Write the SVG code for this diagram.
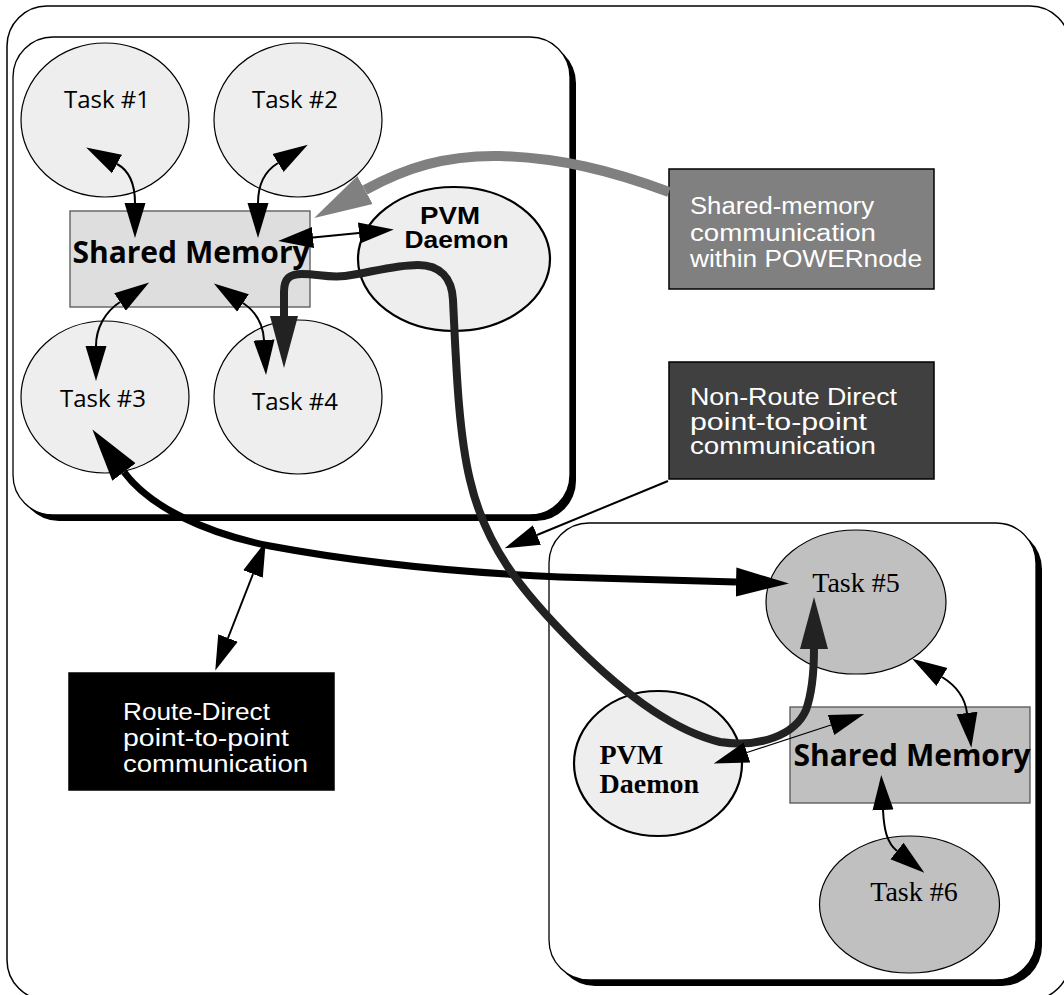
<svg xmlns="http://www.w3.org/2000/svg" width="1064" height="995" viewBox="0 0 1064 995">
  <style>
    .frame{fill:#fff;stroke:#000;stroke-width:1.5}
    .pnode{fill:#fff;stroke:#000;stroke-width:1.3}
    .shadow{fill:#000}
    .task-a{fill:#eeeeee;stroke:#000;stroke-width:1.2}
    .task-b{fill:#c0c0c0;stroke:#000;stroke-width:1.2}
    .daemon{fill:#eeeeee;stroke:#000;stroke-width:2.2}
    .shm-a{fill:#dedede;stroke:#555;stroke-width:1.3}
    .shm-b{fill:#c0c0c0;stroke:#555;stroke-width:1.3}
    .note{stroke:#000;stroke-width:1.5}
    .sans{font-family:"Open Sans","Liberation Sans",sans-serif}
    .tight{font-family:"Liberation Sans","Open Sans",sans-serif}
    .serif{font-family:"Liberation Serif","DejaVu Serif",serif}
    .task{font-size:24px;fill:#000;text-anchor:middle}
    .task-serif{font-size:28px;fill:#000;text-anchor:middle}
    .shm-txt{font-size:30px;font-weight:700;fill:#000;text-anchor:middle}
    .pvm-txt{font-size:23px;font-weight:700;fill:#000;text-anchor:middle}
    .pvm-serif{font-size:28px;font-weight:700;fill:#000}
    .note-txt{font-size:23px;fill:#fff}
    .thin{fill:none;stroke:#000;stroke-width:2;marker-start:url(#ah);marker-end:url(#ah)}
    .hair{fill:none;stroke:#000;stroke-width:1.3;marker-start:url(#ah);marker-end:url(#ah)}
    .route{fill:none;stroke:#000;stroke-width:7;marker-start:url(#ahBlack);marker-end:url(#ahBlack)}
    .daemon-path{fill:none;stroke:#222;stroke-width:8;stroke-linejoin:round;marker-start:url(#ahDark);marker-end:url(#ahDark)}
    .shm-path{fill:none;stroke:#808080;stroke-width:10;marker-end:url(#ahGray)}
  </style>
  <defs>
    <marker id="ah" markerUnits="userSpaceOnUse" viewBox="0 -12 36 24" refX="0" refY="0" markerWidth="36" markerHeight="24" orient="auto-start-reverse">
      <path d="M0,-10.5 L35,0 L0,10.5 z" fill="#000"/>
    </marker>
    <marker id="ahBlack" markerUnits="userSpaceOnUse" viewBox="0 -16 54 32" refX="0" refY="0" markerWidth="54" markerHeight="32" orient="auto-start-reverse">
      <path d="M0,-14.5 L53,0 L0,14.5 z" fill="#000"/>
    </marker>
    <marker id="ahDark" markerUnits="userSpaceOnUse" viewBox="0 -16 54 32" refX="0" refY="0" markerWidth="54" markerHeight="32" orient="auto-start-reverse">
      <path d="M0,-14 L52,0 L0,14 z" fill="#222"/>
    </marker>
    <marker id="ahGray" markerUnits="userSpaceOnUse" viewBox="0 -17 60 34" refX="0" refY="0" markerWidth="60" markerHeight="34" orient="auto">
      <path d="M0,-16 L58,0 L0,16 z" fill="#808080"/>
    </marker>
  </defs>

  <!-- outer frame -->
  <rect class="frame" x="7" y="6" width="1063" height="994" rx="40"/>

  <!-- POWERnode 1 -->
  <g id="powernode-1">
    <rect class="shadow" x="19" y="43" width="557" height="478" rx="40"/>
    <rect class="pnode" x="13" y="37" width="557" height="478" rx="40"/>
  </g>

  <!-- POWERnode 2 -->
  <g id="powernode-2">
    <rect class="shadow" x="555" y="529" width="487" height="457" rx="40"/>
    <rect class="pnode" x="549" y="523" width="487" height="457" rx="40"/>
  </g>

  <g id="task1">
    <ellipse class="task-a" cx="105" cy="120" rx="84" ry="77"/>
    <text class="sans task" x="107" y="107.5">Task #1</text>
  </g>
  <g id="task2">
    <ellipse class="task-a" cx="298" cy="120" rx="84" ry="77"/>
    <text class="sans task" x="295" y="107.5">Task #2</text>
  </g>
  <g id="task3">
    <ellipse class="task-a" cx="105" cy="397" rx="84" ry="76"/>
    <text class="sans task" x="103" y="407">Task #3</text>
  </g>
  <g id="task4">
    <ellipse class="task-a" cx="298" cy="397" rx="84" ry="77"/>
    <text class="sans task" x="295" y="410">Task #4</text>
  </g>
  <g id="shm1">
    <rect class="shm-a" x="70" y="211" width="240" height="96"/>
    <text class="sans shm-txt" x="191" y="263">Shared Memory</text>
  </g>
  <g id="pvm1">
    <ellipse class="daemon" cx="454" cy="259" rx="96" ry="72"/>
    <text class="tight pvm-txt" x="450" y="223.5" textLength="60" lengthAdjust="spacingAndGlyphs">PVM</text>
    <text class="tight pvm-txt" x="456.5" y="247.5" textLength="104" lengthAdjust="spacingAndGlyphs">Daemon</text>
  </g>

  <g id="task5">
    <ellipse class="task-b" cx="856" cy="602" rx="90" ry="72"/>
    <text class="serif task-serif" x="856" y="592">Task #5</text>
  </g>
  <g id="shm2">
    <rect class="shm-b" x="790" y="707" width="240" height="96"/>
    <text class="sans shm-txt" x="912" y="766">Shared Memory</text>
  </g>
  <g id="pvm2">
    <ellipse class="daemon" cx="658" cy="763.5" rx="84" ry="72.5"/>
    <text class="serif pvm-serif" x="599.5" y="763.5">PVM</text>
    <text class="serif pvm-serif" x="599.5" y="792.5">Daemon</text>
  </g>
  <g id="task6">
    <ellipse class="task-b" cx="909.5" cy="904.5" rx="90" ry="68.5"/>
    <text class="serif task-serif" x="914" y="901">Task #6</text>
  </g>

  <!-- legend boxes -->
  <g id="note-shared">
    <rect class="note" x="669" y="169" width="265" height="120" fill="#808080"/>
    <text class="tight note-txt" x="690" y="214" textLength="184" lengthAdjust="spacingAndGlyphs">Shared-memory</text>
    <text class="tight note-txt" x="690" y="240.5" textLength="186" lengthAdjust="spacingAndGlyphs">communication</text>
    <text class="tight note-txt" x="690" y="267" textLength="232" lengthAdjust="spacingAndGlyphs">within POWERnode</text>
  </g>
  <g id="note-nonroute">
    <rect class="note" x="669" y="362" width="265" height="117" fill="#404040"/>
    <text class="tight note-txt" x="690" y="405" textLength="207" lengthAdjust="spacingAndGlyphs">Non-Route Direct</text>
    <text class="tight note-txt" x="690" y="429.5" textLength="177" lengthAdjust="spacingAndGlyphs">point-to-point</text>
    <text class="tight note-txt" x="690" y="454" textLength="186" lengthAdjust="spacingAndGlyphs">communication</text>
  </g>
  <g id="note-route">
    <rect class="note" x="69" y="673" width="265" height="117" fill="#000"/>
    <text class="tight note-txt" x="123" y="720" textLength="147" lengthAdjust="spacingAndGlyphs">Route-Direct</text>
    <text class="tight note-txt" x="123" y="746" textLength="166" lengthAdjust="spacingAndGlyphs">point-to-point</text>
    <text class="tight note-txt" x="123" y="772" textLength="185" lengthAdjust="spacingAndGlyphs">communication</text>
  </g>

  <!-- connectors -->
  <g id="connectors">
    <path class="thin" d="M117 164 C130 171 135 185 135 203"/>
    <path class="thin" d="M278 163 C265 171 258 185 258 203"/>
    <path class="thin" d="M313 237.5 L359 233"/>
    <path class="thin" d="M120 302 C105 312 96 328 96 346"/>
    <path class="thin" d="M243 303 C255 311 263 323 264 340"/>

    <path class="shm-path" d="M669 192 C610 170 560 158 500 156 C445 155 405 168 365 190"/>

    <path class="route" d="M124 472 C150 507 205 533 270 546 C350 561 450 572 560 577 L736 582"/>

    <path class="daemon-path" d="M284 316 L284 292 C284 278 290 274 302 274 C318 274 328 278 345 276 C368 273 395 265 418 265 C440 265 452 278 453 300 C456 360 458 430 470 480 C485 545 520 590 575 645 C620 690 670 730 720 742 C760 748 795 735 806 710 C813 690 814 670 814 649"/>

    <path class="thin" d="M253 574 L228 638"/>
    <path class="thin" d="M668 481 L537 535" style="marker-start:none"/>

    <path class="hair" d="M747 752.5 L831 725"/>
    <path class="thin" d="M942 677 C955 685 965 697 967 713"/>
    <path class="thin" d="M883 810 C884 830 887 843 897 851"/>
  </g>
</svg>
